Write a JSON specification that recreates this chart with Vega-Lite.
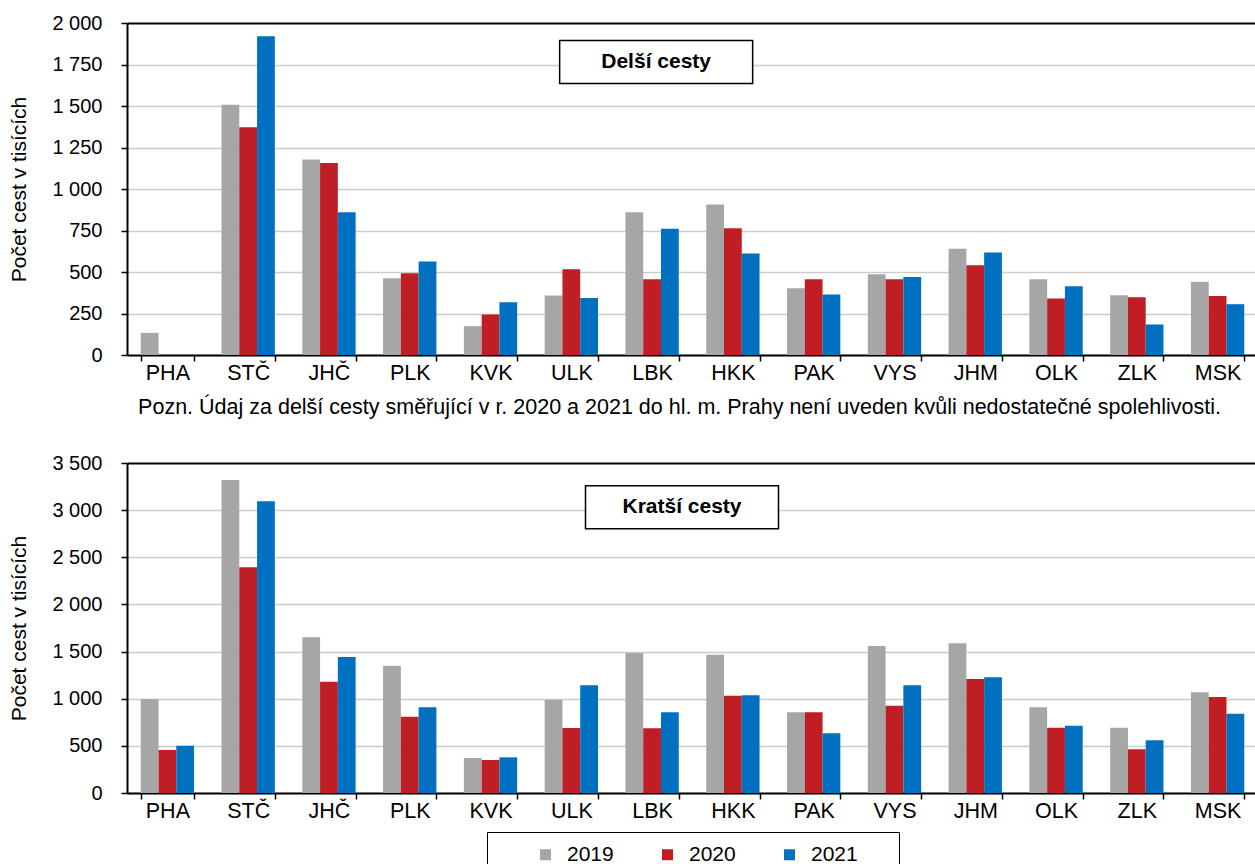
{
  "$schema": "https://vega.github.io/schema/vega-lite/v6.json",
  "padding": {"left": 8, "top": 13, "right": 0, "bottom": 0},
  "background": "white",
  "config": {
    "font": "Liberation Sans",
    "view": {"stroke": null},
    "axis": {
      "labelFont": "Liberation Sans", "labelFontSize": 20, "labelColor": "black",
      "titleFont": "Liberation Sans", "titleFontSize": 21, "titleFontWeight": "normal", "titleColor": "black",
      "domainColor": "black", "domainWidth": 2, "tickColor": "black", "tickWidth": 1.5, "tickSize": 6
    }
  },
  "datasets": {
    "trips": [
      {"panel": "D", "region": "PHA", "year": "2019", "value": 133},
      {"panel": "D", "region": "STČ", "year": "2019", "value": 1508},
      {"panel": "D", "region": "STČ", "year": "2020", "value": 1372},
      {"panel": "D", "region": "STČ", "year": "2021", "value": 1920},
      {"panel": "D", "region": "JHČ", "year": "2019", "value": 1178},
      {"panel": "D", "region": "JHČ", "year": "2020", "value": 1156},
      {"panel": "D", "region": "JHČ", "year": "2021", "value": 860},
      {"panel": "D", "region": "PLK", "year": "2019", "value": 463},
      {"panel": "D", "region": "PLK", "year": "2020", "value": 493},
      {"panel": "D", "region": "PLK", "year": "2021", "value": 563},
      {"panel": "D", "region": "KVK", "year": "2019", "value": 174},
      {"panel": "D", "region": "KVK", "year": "2020", "value": 244},
      {"panel": "D", "region": "KVK", "year": "2021", "value": 318},
      {"panel": "D", "region": "ULK", "year": "2019", "value": 358},
      {"panel": "D", "region": "ULK", "year": "2020", "value": 516},
      {"panel": "D", "region": "ULK", "year": "2021", "value": 344},
      {"panel": "D", "region": "LBK", "year": "2019", "value": 860},
      {"panel": "D", "region": "LBK", "year": "2020", "value": 456},
      {"panel": "D", "region": "LBK", "year": "2021", "value": 760},
      {"panel": "D", "region": "HKK", "year": "2019", "value": 906},
      {"panel": "D", "region": "HKK", "year": "2020", "value": 764},
      {"panel": "D", "region": "HKK", "year": "2021", "value": 612},
      {"panel": "D", "region": "PAK", "year": "2019", "value": 402},
      {"panel": "D", "region": "PAK", "year": "2020", "value": 456},
      {"panel": "D", "region": "PAK", "year": "2021", "value": 364},
      {"panel": "D", "region": "VYS", "year": "2019", "value": 486},
      {"panel": "D", "region": "VYS", "year": "2020", "value": 456},
      {"panel": "D", "region": "VYS", "year": "2021", "value": 470},
      {"panel": "D", "region": "JHM", "year": "2019", "value": 640},
      {"panel": "D", "region": "JHM", "year": "2020", "value": 540},
      {"panel": "D", "region": "JHM", "year": "2021", "value": 618},
      {"panel": "D", "region": "OLK", "year": "2019", "value": 456},
      {"panel": "D", "region": "OLK", "year": "2020", "value": 340},
      {"panel": "D", "region": "OLK", "year": "2021", "value": 414},
      {"panel": "D", "region": "ZLK", "year": "2019", "value": 360},
      {"panel": "D", "region": "ZLK", "year": "2020", "value": 348},
      {"panel": "D", "region": "ZLK", "year": "2021", "value": 184},
      {"panel": "D", "region": "MSK", "year": "2019", "value": 442},
      {"panel": "D", "region": "MSK", "year": "2020", "value": 356},
      {"panel": "D", "region": "MSK", "year": "2021", "value": 306},

      {"panel": "K", "region": "PHA", "year": "2019", "value": 997},
      {"panel": "K", "region": "PHA", "year": "2020", "value": 457},
      {"panel": "K", "region": "PHA", "year": "2021", "value": 501},
      {"panel": "K", "region": "STČ", "year": "2019", "value": 3320},
      {"panel": "K", "region": "STČ", "year": "2020", "value": 2393},
      {"panel": "K", "region": "STČ", "year": "2021", "value": 3094},
      {"panel": "K", "region": "JHČ", "year": "2019", "value": 1651},
      {"panel": "K", "region": "JHČ", "year": "2020", "value": 1180},
      {"panel": "K", "region": "JHČ", "year": "2021", "value": 1442},
      {"panel": "K", "region": "PLK", "year": "2019", "value": 1350},
      {"panel": "K", "region": "PLK", "year": "2020", "value": 808},
      {"panel": "K", "region": "PLK", "year": "2021", "value": 910},
      {"panel": "K", "region": "KVK", "year": "2019", "value": 371},
      {"panel": "K", "region": "KVK", "year": "2020", "value": 350},
      {"panel": "K", "region": "KVK", "year": "2021", "value": 378},
      {"panel": "K", "region": "ULK", "year": "2019", "value": 990},
      {"panel": "K", "region": "ULK", "year": "2020", "value": 689},
      {"panel": "K", "region": "ULK", "year": "2021", "value": 1142},
      {"panel": "K", "region": "LBK", "year": "2019", "value": 1485},
      {"panel": "K", "region": "LBK", "year": "2020", "value": 686},
      {"panel": "K", "region": "LBK", "year": "2021", "value": 856},
      {"panel": "K", "region": "HKK", "year": "2019", "value": 1467},
      {"panel": "K", "region": "HKK", "year": "2020", "value": 1032},
      {"panel": "K", "region": "HKK", "year": "2021", "value": 1036},
      {"panel": "K", "region": "PAK", "year": "2019", "value": 856},
      {"panel": "K", "region": "PAK", "year": "2020", "value": 856},
      {"panel": "K", "region": "PAK", "year": "2021", "value": 633},
      {"panel": "K", "region": "VYS", "year": "2019", "value": 1559},
      {"panel": "K", "region": "VYS", "year": "2020", "value": 926},
      {"panel": "K", "region": "VYS", "year": "2021", "value": 1142},
      {"panel": "K", "region": "JHM", "year": "2019", "value": 1587},
      {"panel": "K", "region": "JHM", "year": "2020", "value": 1209},
      {"panel": "K", "region": "JHM", "year": "2021", "value": 1227},
      {"panel": "K", "region": "OLK", "year": "2019", "value": 909},
      {"panel": "K", "region": "OLK", "year": "2020", "value": 693},
      {"panel": "K", "region": "OLK", "year": "2021", "value": 714},
      {"panel": "K", "region": "ZLK", "year": "2019", "value": 693},
      {"panel": "K", "region": "ZLK", "year": "2020", "value": 463},
      {"panel": "K", "region": "ZLK", "year": "2021", "value": 559},
      {"panel": "K", "region": "MSK", "year": "2019", "value": 1068},
      {"panel": "K", "region": "MSK", "year": "2020", "value": 1018},
      {"panel": "K", "region": "MSK", "year": "2021", "value": 841}
    ],
    "notes": [
      {"panel": "D", "pos": 6.55, "value": 1765, "label": "Delší cesty"},
      {"panel": "K", "pos": 6.87, "value": 3030, "label": "Kratší cesty"}
    ]
  },
  "spacing": 35,
  "vconcat": [
    {
      "width": 1131,
      "height": 332,
      "layer": [
        {
          "data": {"name": "trips"},
          "transform": [{"filter": "datum.panel === 'D'"}],
          "mark": {"type": "bar"},
          "encoding": {
            "x": {
              "field": "region", "type": "nominal",
              "sort": ["PHA","STČ","JHČ","PLK","KVK","ULK","LBK","HKK","PAK","VYS","JHM","OLK","ZLK","MSK"],
              "scale": {"paddingInner": 0.34, "paddingOuter": 0.17},
              "title": "Pozn. Údaj za delší cesty směřující v r. 2020 a 2021 do hl. m. Prahy není uveden kvůli nedostatečné spolehlivosti.",
              "axis": {"labelAngle": 0, "tickBand": "extent", "labelPadding": 1, "labelFontSize": 21.5, "titleFontSize": 21.5, "titlePadding": 13, "titleX": 552, "titleAlign": "center", "grid": false}
            },
            "xOffset": {"field": "year", "type": "nominal", "sort": ["2019","2020","2021"]},
            "y": {
              "field": "value", "type": "quantitative",
              "scale": {"domain": [0, 2000]},
              "title": "Počet cest v tisících",
              "axis": {
                "values": [0,250,500,750,1000,1250,1500,1750,2000],
                "labelExpr": "replace(format(datum.value, ','), ',', ' ')",
                "gridColor": {"condition": {"test": "datum.value === 2000", "value": "black"}, "value": "#cccccc"},
                "gridWidth": {"condition": {"test": "datum.value === 2000", "value": 2}, "value": 1.5},
                "labelPadding": 19, "titlePadding": 22
              }
            },
            "color": {
              "field": "year", "type": "nominal",
              "scale": {"domain": ["2019","2020","2021"], "range": ["#a6a6a6","#be1e24","#0070c0"]},
              "legend": {
                "title": " ", "titleOrient": "left", "titlePadding": 36,
                "orient": "none", "legendX": 360, "legendY": 809, "direction": "horizontal",
                "symbolType": "square", "symbolSize": 121, "symbolStrokeWidth": 0,
                "labelFontSize": 21, "labelColor": "black", "labelOffset": 11, "columnPadding": 43,
                "padding": 12, "strokeColor": "black",
                "labelExpr": "indexof(datum.label + '', '2021') >= 0 ? '2021\u00a0\u00a0\u00a0\u00a0\u00a0\u200b' : datum.label"
              }
            }
          }
        },
        {
          "data": {"name": "notes"},
          "transform": [{"filter": "datum.panel === 'D'"}],
          "mark": {"type": "point", "shape": "M-1,-0.2228L1,-0.2228L1,0.2228L-1,0.2228Z", "size": 37249, "filled": true, "fill": "white", "stroke": "black", "strokeWidth": 1.5, "opacity": 1},
          "encoding": {
            "x": {"field": "pos", "type": "quantitative", "scale": {"domain": [0, 14]}, "axis": null},
            "y": {"field": "value", "type": "quantitative", "scale": {"domain": [0, 2000]}, "title": "Počet cest v tisících"}
          }
        },
        {
          "data": {"name": "notes"},
          "transform": [{"filter": "datum.panel === 'D'"}],
          "mark": {"type": "text", "fontWeight": "bold", "fontSize": 21, "color": "black", "baseline": "middle", "align": "center"},
          "encoding": {
            "x": {"field": "pos", "type": "quantitative", "scale": {"domain": [0, 14]}, "axis": null},
            "y": {"field": "value", "type": "quantitative", "scale": {"domain": [0, 2000]}, "title": "Počet cest v tisících"},
            "text": {"field": "label"}
          }
        }
      ],
      "resolve": {"scale": {"x": "independent"}}
    },
    {
      "width": 1131,
      "height": 330,
      "layer": [
        {
          "data": {"name": "trips"},
          "transform": [{"filter": "datum.panel === 'K'"}],
          "mark": {"type": "bar"},
          "encoding": {
            "x": {
              "field": "region", "type": "nominal",
              "sort": ["PHA","STČ","JHČ","PLK","KVK","ULK","LBK","HKK","PAK","VYS","JHM","OLK","ZLK","MSK"],
              "scale": {"paddingInner": 0.34, "paddingOuter": 0.17},
              "title": null,
              "axis": {"labelAngle": 0, "tickBand": "extent", "labelPadding": 1, "labelFontSize": 21.5, "grid": false}
            },
            "xOffset": {"field": "year", "type": "nominal", "sort": ["2019","2020","2021"]},
            "y": {
              "field": "value", "type": "quantitative",
              "scale": {"domain": [0, 3500]},
              "title": "Počet cest v tisících",
              "axis": {
                "values": [0,500,1000,1500,2000,2500,3000,3500],
                "labelExpr": "replace(format(datum.value, ','), ',', ' ')",
                "gridColor": {"condition": {"test": "datum.value === 3500", "value": "black"}, "value": "#cccccc"},
                "gridWidth": {"condition": {"test": "datum.value === 3500", "value": 2}, "value": 1.5},
                "labelPadding": 19, "titlePadding": 22
              }
            },
            "color": {
              "field": "year", "type": "nominal",
              "scale": {"domain": ["2019","2020","2021"], "range": ["#a6a6a6","#be1e24","#0070c0"]},
              "legend": {
                "title": " ", "titleOrient": "left", "titlePadding": 36,
                "orient": "none", "legendX": 360, "legendY": 809, "direction": "horizontal",
                "symbolType": "square", "symbolSize": 121, "symbolStrokeWidth": 0,
                "labelFontSize": 21, "labelColor": "black", "labelOffset": 11, "columnPadding": 43,
                "padding": 12, "strokeColor": "black",
                "labelExpr": "indexof(datum.label + '', '2021') >= 0 ? '2021\u00a0\u00a0\u00a0\u00a0\u00a0\u200b' : datum.label"
              }
            }
          }
        },
        {
          "data": {"name": "notes"},
          "transform": [{"filter": "datum.panel === 'K'"}],
          "mark": {"type": "point", "shape": "M-1,-0.2228L1,-0.2228L1,0.2228L-1,0.2228Z", "size": 37249, "filled": true, "fill": "white", "stroke": "black", "strokeWidth": 1.5, "opacity": 1},
          "encoding": {
            "x": {"field": "pos", "type": "quantitative", "scale": {"domain": [0, 14]}, "axis": null},
            "y": {"field": "value", "type": "quantitative", "scale": {"domain": [0, 3500]}, "title": "Počet cest v tisících"}
          }
        },
        {
          "data": {"name": "notes"},
          "transform": [{"filter": "datum.panel === 'K'"}],
          "mark": {"type": "text", "fontWeight": "bold", "fontSize": 21, "color": "black", "baseline": "middle", "align": "center"},
          "encoding": {
            "x": {"field": "pos", "type": "quantitative", "scale": {"domain": [0, 14]}, "axis": null},
            "y": {"field": "value", "type": "quantitative", "scale": {"domain": [0, 3500]}, "title": "Počet cest v tisících"},
            "text": {"field": "label"}
          }
        }
      ],
      "resolve": {"scale": {"x": "independent"}}
    }
  ]
}
